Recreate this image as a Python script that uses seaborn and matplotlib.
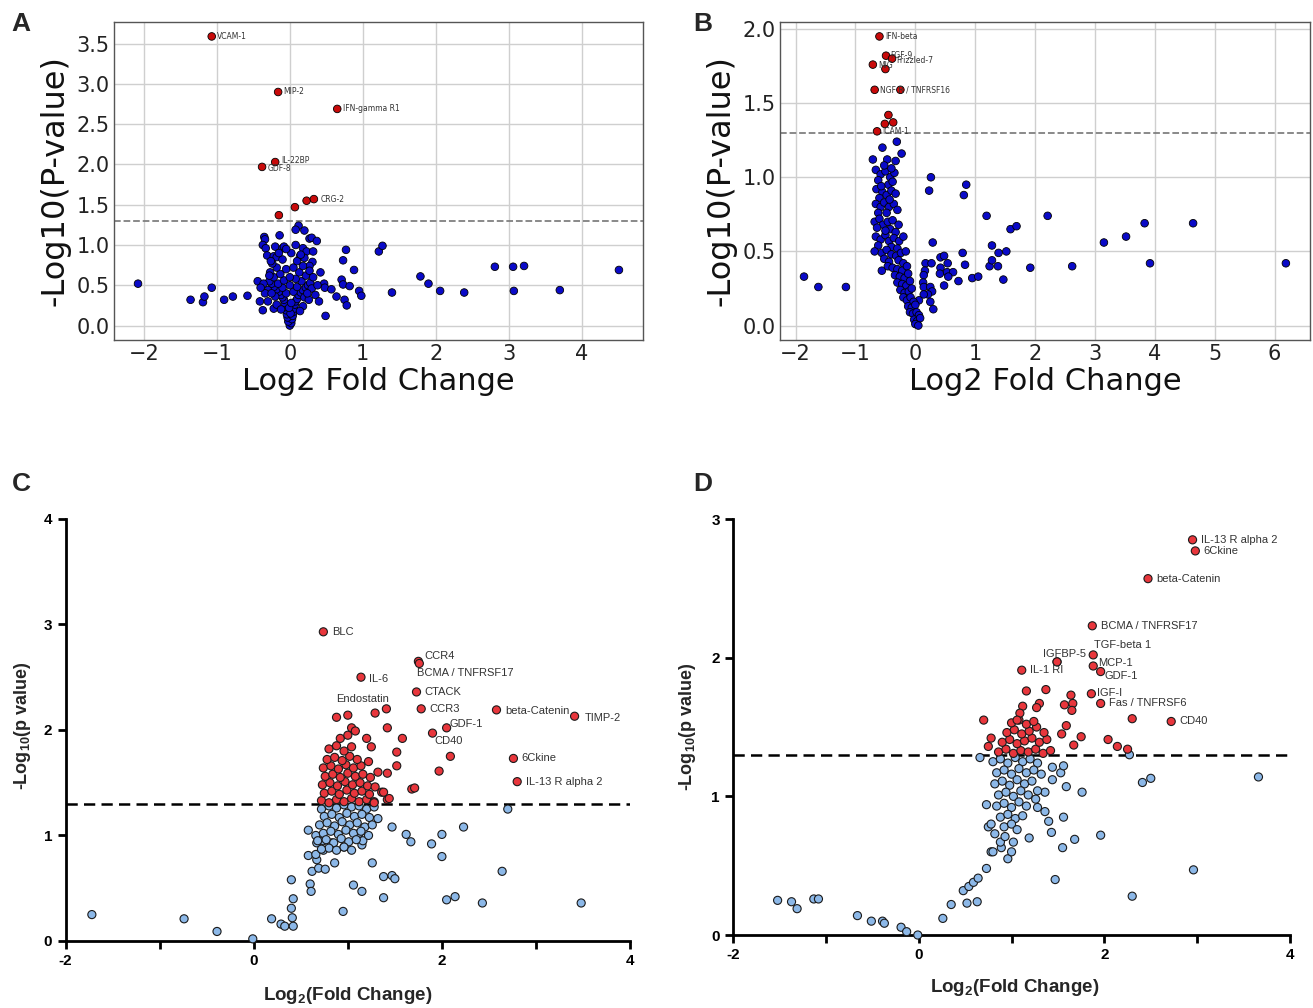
import matplotlib
matplotlib.use('Agg')
import pandas as pd
import matplotlib.pyplot as plt
import seaborn as sns

# ---------------- Panel A ----------------
A_fc = [-2.08, -1.36, -1.19, -1.17, -1.07, -0.90, -0.78, -0.58, -0.44, -0.41, -0.37, -0.22,
        -0.35, -0.34, -0.37, -0.33, -0.14, -0.31, -0.20, -0.10, -0.08, -0.22, -0.18,
        0.12, 0.08, 0.20, 0.27, 0.30, 0.37, 0.18, 0.23, 0.32, 0.14, 0.31, 0.27, 0.42,
        0.77, 0.73, 0.88, 0.47, 0.48, 0.57, 0.64, 0.71, 0.73, 0.82, 0.95, 0.98, 0.75, 0.78, 0.49,
        1.22, 1.27, 1.40, 1.79, 1.90, 2.06, 2.39, 2.81, 3.06, 3.21, 3.07, 3.70, 4.51,
        0.00, 0.02, -0.02, 0.03, -0.03, 0.04, -0.04, 0.05, -0.05, 0.06, -0.06, 0.07, -0.07,
        0.08, -0.08, 0.10, -0.10, 0.01, -0.01, 0.02,
        -0.12, 0.12, -0.15, 0.15, -0.18, 0.18, -0.22, 0.22, -0.25, 0.25, -0.28, 0.28, -0.05,
        0.05, -0.10, 0.10, 0.00, -0.16, 0.16, -0.30, 0.30, -0.34, 0.35, -0.20, 0.20, -0.08,
        0.08, -0.22, 0.22, 0.00, -0.13, 0.13, -0.27, 0.27, -0.05, 0.05, -0.18, 0.18, -0.24,
        0.10, -0.10, 0.20, -0.15, 0.15, -0.26, 0.02, 0.08, -0.05, -0.28, 0.32, -0.36, 0.38,
        -0.40, 0.40, -0.30, 0.26, -0.18, 0.18, -0.12, 0.14, -0.25, 0.24,
        0.23, 0.07, -0.15]
A_logp = [0.52, 0.32, 0.29, 0.36, 0.47, 0.32, 0.36, 0.37, 0.55, 0.30, 0.19, 0.21,
          1.10, 1.07, 1.00, 0.96, 1.12, 0.87, 0.98, 0.96, 0.98, 0.86, 0.85,
          1.24, 1.19, 1.18, 1.08, 1.09, 1.05, 0.96, 0.92, 0.92, 0.86, 0.79, 0.74, 0.66,
          0.94, 0.81, 0.69, 0.52, 0.47, 0.45, 0.36, 0.57, 0.51, 0.49, 0.43, 0.37, 0.32, 0.25, 0.12,
          0.92, 0.99, 0.41, 0.61, 0.52, 0.43, 0.41, 0.73, 0.73, 0.74, 0.43, 0.44, 0.69,
          0.00, 0.03, 0.05, 0.08, 0.10, 0.12, 0.14, 0.17, 0.19, 0.21, 0.23, 0.26, 0.28,
          0.30, 0.32, 0.33, 0.35, 0.15, 0.22, 0.28,
          0.38, 0.38, 0.42, 0.41, 0.45, 0.44, 0.48, 0.47, 0.52, 0.50, 0.55, 0.53, 0.40,
          0.42, 0.47, 0.48, 0.50, 0.52, 0.55, 0.44, 0.46, 0.40, 0.38, 0.36, 0.35, 0.56,
          0.58, 0.60, 0.62, 0.60, 0.64, 0.66, 0.66, 0.68, 0.70, 0.72, 0.72, 0.74, 0.77,
          0.80, 0.82, 0.84, 0.90, 0.88, 0.80, 0.90, 1.00, 0.95, 0.62, 0.60, 0.52, 0.50,
          0.47, 0.30, 0.30, 0.32, 0.26, 0.24, 0.20, 0.18, 0.40, 0.40,
          1.55, 1.47, 1.37]
A_lab_names = ['VCAM-1', 'MIP-2', 'IFN-gamma R1', 'IL-22BP', 'GDF-8', 'CRG-2']
A_lab_fc = [-1.07, -0.16, 0.65, -0.20, -0.38, 0.33]
A_lab_logp = [3.59, 2.90, 2.69, 2.03, 1.97, 1.57]

# ---------------- Panel B ----------------
B_fc = [-1.86, -1.62, -1.16, -0.56, -0.31, -0.55, -0.23, -0.71, -0.47, -0.33,
        0.26, 0.23, 0.85, 0.81, 1.19, 2.21, 1.59, 1.69, 3.83, 4.64, 3.52, 3.15, 0.29, 1.28,
        0.79, 1.39, 1.52, 0.42, 0.48, 0.83, 1.24, 1.28, 1.38, 1.92, 2.62, 3.92, 6.19,
        0.17, 0.27, 0.16, 0.14, 0.54, 0.42, 0.41, 0.53, 0.63, 0.55, 0.72, 0.95, 1.05, 1.47,
        0.48, 0.13, 0.14, 0.25, 0.28, 0.21, 0.14, 0.06, 0.25, 0.30,
        -0.66, -0.58, -0.50, -0.42, -0.35, -0.62, -0.45, -0.38,
        -0.65, -0.55, -0.48, -0.40, -0.33, -0.60,
        -0.66, -0.58, -0.52, -0.44, -0.36, -0.30, -0.62, -0.48,
        -0.68, -0.60, -0.54, -0.46, -0.38, -0.28, -0.64, -0.42, -0.33,
        -0.66, -0.58, -0.50, -0.44, -0.36, -0.27, -0.20, -0.62, -0.40, -0.30,
        -0.68, -0.56, -0.48, -0.40, -0.32, -0.24, -0.16, -0.52, -0.44, -0.28, -0.20,
        -0.46, -0.38, -0.30, -0.22, -0.14, -0.34, -0.26, -0.18, -0.12,
        -0.30, -0.22, -0.15, -0.09, -0.25, -0.18, -0.11, -0.06,
        -0.20, -0.14, -0.08, -0.03, -0.12, -0.06, 0.00,
        -0.09, -0.04, 0.02, 0.06, -0.02, 0.03, 0.08, 0.00, 0.05,
        -0.52, -0.40, -0.57, -0.50, -0.43,
        -0.25, -0.45, -0.37, -0.51, -0.50]
B_logp = [0.33, 0.26, 0.26, 0.37, 1.24, 1.20, 1.16, 1.12, 1.12, 1.11,
          1.00, 0.91, 0.95, 0.88, 0.74, 0.74, 0.65, 0.67, 0.69, 0.69, 0.60, 0.56, 0.56, 0.54,
          0.49, 0.49, 0.50, 0.46, 0.47, 0.41, 0.40, 0.44, 0.40, 0.39, 0.40, 0.42, 0.42,
          0.42, 0.42, 0.37, 0.34, 0.42, 0.39, 0.35, 0.36, 0.36, 0.33, 0.30, 0.32, 0.33, 0.31,
          0.27, 0.29, 0.26, 0.26, 0.23, 0.21, 0.21, 0.17, 0.16, 0.11,
          1.05, 1.02, 1.04, 1.00, 1.03, 0.98, 0.95, 0.97,
          0.92, 0.90, 0.88, 0.91, 0.89, 0.86,
          0.82, 0.80, 0.83, 0.80, 0.82, 0.78, 0.76, 0.76,
          0.70, 0.72, 0.68, 0.70, 0.71, 0.68, 0.66, 0.65, 0.63,
          0.60, 0.58, 0.61, 0.57, 0.59, 0.57, 0.60, 0.54, 0.53, 0.52,
          0.50, 0.49, 0.51, 0.48, 0.47, 0.49, 0.50, 0.45, 0.43, 0.44, 0.42,
          0.40, 0.39, 0.38, 0.37, 0.40, 0.34, 0.33, 0.32, 0.35,
          0.29, 0.28, 0.27, 0.30, 0.24, 0.22, 0.23, 0.25,
          0.19, 0.17, 0.19, 0.16, 0.13, 0.12, 0.14,
          0.09, 0.08, 0.09, 0.07, 0.04, 0.03, 0.05, 0.01, 0.00,
          1.08, 1.06, 0.94, 0.64, 0.85,
          1.59, 1.42, 1.37, 1.36, 1.73]
B_lab_names = ['IFN-beta', 'FGF-9', 'Frizzled-7', 'MIG', 'NGF R / TNFRSF16', 'ICAM-1']
B_lab_fc = [-0.60, -0.49, -0.39, -0.71, -0.68, -0.64]
B_lab_logp = [1.95, 1.82, 1.80, 1.76, 1.59, 1.31]

# ---------------- Panel C ----------------
C_fc = [-1.72, -0.74, -0.39, -0.01, 0.19, 0.29, 0.33, 0.42, 0.41, 0.40, 0.42, 0.40,
        0.60, 0.61, 0.62, 0.69, 0.76, 0.86, 0.58, 0.67, 0.66, 0.58, 0.66, 0.67, 0.74, 0.74,
        0.83, 0.96, 1.15, 1.16, 1.12, 1.26, 1.06, 1.15, 0.95, 1.38, 1.47, 1.50, 1.38, 1.32,
        1.47, 1.62, 1.67, 1.89, 2.00, 2.00, 2.23, 2.05, 2.14, 2.43, 2.64, 2.70, 3.48,
        0.72, 0.80, 0.88, 0.96, 1.04, 1.12, 1.20, 1.28,
        0.75, 0.83, 0.91, 0.99, 1.07, 1.15, 1.23,
        0.70, 0.78, 0.86, 0.94, 1.02, 1.10, 1.18, 1.26,
        0.74, 0.82, 0.90, 0.98, 1.06, 1.14, 1.22,
        0.68, 0.77, 0.85, 0.93, 1.01, 1.09,
        0.80, 0.88, 0.96, 1.04, 0.72,
        0.72, 0.80, 0.88, 0.96, 1.04, 1.12, 1.20, 1.28,
        0.75, 0.83, 0.91, 0.99, 1.07, 1.15, 1.23,
        0.73, 0.81, 0.89, 0.97, 1.05, 1.13, 1.21, 1.29,
        0.76, 0.84, 0.92, 1.00, 1.08, 1.16, 1.24,
        0.74, 0.82, 0.90, 0.98, 1.06, 1.14, 1.22,
        0.78, 0.86, 0.94, 1.02, 1.10,
        0.80, 0.88, 0.96, 1.04, 0.92, 1.00,
        0.88, 1.00, 1.29, 1.04, 1.08, 1.20, 1.42, 1.58, 1.25, 1.52, 1.52, 2.09, 1.97,
        1.68, 1.42, 1.36, 1.42, 1.32, 1.28, 1.44, 1.38, 1.71]
C_logp = [0.25, 0.21, 0.09, 0.02, 0.21, 0.16, 0.14, 0.14, 0.22, 0.31, 0.40, 0.58,
          0.54, 0.47, 0.66, 0.69, 0.68, 0.74, 0.81, 0.77, 0.82, 1.05, 1.00, 0.93, 0.95, 0.86,
          0.93, 0.89, 0.91, 0.95, 1.02, 0.74, 0.53, 0.47, 0.28, 0.61, 0.62, 0.59, 0.41, 1.16,
          1.08, 1.01, 0.94, 0.92, 1.01, 0.80, 1.08, 0.39, 0.42, 0.36, 0.66, 1.25, 0.36,
          1.25, 1.28, 1.26, 1.29, 1.27, 1.28, 1.25, 1.27,
          1.18, 1.20, 1.17, 1.21, 1.18, 1.20, 1.17,
          1.10, 1.12, 1.09, 1.13, 1.10, 1.12, 1.08, 1.10,
          1.02, 1.04, 1.01, 1.05, 1.02, 1.04, 1.00,
          0.95, 0.96, 0.93, 0.97, 0.94, 0.96,
          0.88, 0.86, 0.89, 0.86, 0.87,
          1.33, 1.31, 1.34, 1.32, 1.35, 1.32, 1.34, 1.32,
          1.40, 1.42, 1.39, 1.43, 1.40, 1.42, 1.39,
          1.48, 1.50, 1.47, 1.51, 1.48, 1.50, 1.47, 1.46,
          1.56, 1.58, 1.55, 1.59, 1.56, 1.58, 1.55,
          1.64, 1.66, 1.63, 1.67, 1.64, 1.66, 1.70,
          1.72, 1.74, 1.71, 1.75, 1.72,
          1.82, 1.85, 1.80, 1.84, 1.92, 1.95,
          2.12, 2.14, 2.16, 2.02, 1.99, 1.92, 2.02, 1.92, 1.84, 1.79, 1.66, 1.75, 1.61,
          1.44, 1.34, 1.41, 1.59, 1.60, 1.31, 1.35, 1.41, 1.45]
C_lab_names = ['BLC', 'CCR4', 'BCMA / TNFRSF17', 'IL-6', 'Endostatin', 'CTACK', 'CCR3',
               'beta-Catenin', 'TIMP-2', 'GDF-1', 'CD40', '6Ckine', 'IL-13 R alpha 2']
C_lab_fc = [0.74, 1.75, 1.76, 1.14, 1.41, 1.73, 1.78, 2.58, 3.41, 2.05, 1.90, 2.76, 2.80]
C_lab_logp = [2.93, 2.65, 2.63, 2.50, 2.20, 2.36, 2.20, 2.19, 2.13, 2.02, 1.97, 1.73, 1.51]

# ---------------- Panel D ----------------
D_fc = [-1.52, -1.37, -1.31, -1.13, -1.08, -0.66, -0.51, -0.39, -0.37, -0.19, -0.13, -0.01,
        0.26, 0.35, 0.52, 0.63, 0.48, 0.54, 0.59, 0.64, 0.73, 0.78, 0.80, 0.89, 0.96, 0.88,
        1.02, 1.00, 0.82, 0.93, 0.75, 0.78, 0.73, 1.19, 1.43, 1.55, 1.68, 1.96, 1.47, 2.30,
        2.96, 3.66, 2.41, 2.50, 2.27, 0.66, 1.56, 1.40, 1.36, 1.28, 1.36, 1.28, 1.59, 1.76,
        1.44, 1.53, 1.56, 1.44,
        0.80, 0.88, 0.96, 1.04, 1.12, 1.20, 1.28,
        0.84, 0.92, 1.00, 1.08, 1.16, 1.24, 1.32,
        0.82, 0.90, 0.98, 1.06, 1.14, 1.22,
        0.86, 0.94, 1.02, 1.10, 1.18, 1.26,
        0.84, 0.92, 1.00, 1.08, 1.16,
        0.88, 0.96, 1.04, 1.12, 0.92, 1.00, 1.06,
        0.86, 0.94, 1.02, 1.10, 1.18, 1.26, 1.34, 1.42,
        0.90, 0.98, 1.06, 1.14, 1.22, 1.30, 1.38,
        0.95, 1.03, 1.11, 1.19, 1.27, 1.35,
        1.00, 1.08, 1.16, 1.24, 0.70, 0.78, 0.75,
        1.16, 1.37, 1.64, 1.66, 1.65, 1.57, 1.30, 1.27, 1.12, 1.09, 1.06, 1.59, 1.54, 1.75,
        2.30, 1.67, 2.04, 2.14, 2.25, 1.49]
D_logp = [0.25, 0.24, 0.19, 0.26, 0.26, 0.14, 0.10, 0.10, 0.085, 0.056, 0.024, 0.00,
          0.12, 0.22, 0.23, 0.24, 0.32, 0.35, 0.38, 0.41, 0.48, 0.60, 0.60, 0.63, 0.55, 0.67,
          0.67, 0.60, 0.73, 0.71, 0.78, 0.80, 0.94, 0.70, 0.74, 0.63, 0.69, 0.72, 0.40, 0.28,
          0.47, 1.14, 1.10, 1.13, 1.30, 1.28, 0.85, 0.82, 0.89, 0.92, 1.03, 1.04, 1.07, 1.03,
          1.12, 1.17, 1.22, 1.21,
          1.25, 1.27, 1.24, 1.28, 1.25, 1.27, 1.24,
          1.17, 1.19, 1.16, 1.20, 1.17, 1.19, 1.16,
          1.09, 1.11, 1.08, 1.12, 1.09, 1.11,
          1.01, 1.03, 1.00, 1.04, 1.01, 0.98,
          0.93, 0.95, 0.92, 0.96, 0.93,
          0.85, 0.87, 0.84, 0.86, 0.78, 0.80, 0.76,
          1.32, 1.34, 1.31, 1.33, 1.32, 1.34, 1.31, 1.33,
          1.39, 1.41, 1.38, 1.40, 1.42, 1.39, 1.41,
          1.46, 1.48, 1.45, 1.47, 1.50, 1.46,
          1.53, 1.55, 1.52, 1.54, 1.55, 1.42, 1.36,
          1.76, 1.77, 1.73, 1.67, 1.62, 1.66, 1.67, 1.64, 1.65, 1.60, 1.55, 1.51, 1.45, 1.43,
          1.56, 1.37, 1.41, 1.36, 1.34, 1.97]
D_lab_names = ['IL-13 R alpha 2', '6Ckine', 'beta-Catenin', 'BCMA / TNFRSF17', 'TGF-beta 1',
               'IGFBP-5', 'MCP-1', 'GDF-1', 'IL-1 RI', 'IGF-I', 'Fas / TNFRSF6', 'CD40']
D_lab_fc = [2.95, 2.98, 2.47, 1.87, 1.88, 1.49, 1.88, 1.96, 1.11, 1.86, 1.96, 2.72]
D_lab_logp = [2.85, 2.77, 2.57, 2.23, 2.02, 1.97, 1.94, 1.90, 1.91, 1.74, 1.67, 1.54]

# label offsets (points), text left-aligned
A_offsets = [(4, 0), (4, 0), (4, 0), (4, 1), (4, -1), (5, 0)]
B_offsets = [(4, 0), (3, 0), (3, -1), (4, -1), (4, 0), (4, 0)]
C_offsets = [(6, 0), (4, 4), (-2, -7), (6, -1), (-36, 7), (6, 0), (6, 0), (6, -1), (7, -1),
             (2, 3), (1.5, -6), (5.5, 0), (6, 0)]
D_offsets = [(6, 0), (6, 0), (6, 0), (6, 0), (0.5, 7), (-10, 6), (3.5, 2.5), (2.5, -3.5),
             (6, 0), (4, 0.5), (6, 0), (6, 0)]

THRESH = 1.3


def make_df(fc, logp, lab_fc, lab_logp):
    df = pd.DataFrame({'fc': list(fc) + list(lab_fc), 'logp': list(logp) + list(lab_logp)})
    df['sig'] = df['logp'] > THRESH
    return df


sns.set_theme(style='whitegrid')
plt.rcParams['font.family'] = ['DejaVu Sans']
plt.rcParams['mathtext.default'] = 'regular'

fig = plt.figure(figsize=(13.13, 10.08), dpi=100)
axA = fig.add_axes([0.0868, 0.6627, 0.4029, 0.3155])
axB = fig.add_axes([0.594, 0.6627, 0.4037, 0.3155])
axC = fig.add_axes([0.0499, 0.0665, 0.4300, 0.4187])
axD = fig.add_axes([0.5583, 0.0724, 0.4242, 0.4127])

# ---- top row: matplotlib-style grid plots ----
top = [(axA, A_fc, A_logp, A_lab_names, A_lab_fc, A_lab_logp, A_offsets),
       (axB, B_fc, B_logp, B_lab_names, B_lab_fc, B_lab_logp, B_offsets)]
for ax, fc, lp, names, lfc, llp, offs in top:
    df = make_df(fc, lp, lfc, llp)
    sns.scatterplot(data=df, x='fc', y='logp', hue='sig', palette={False: '#0a0ac8', True: '#c80a0a'},
                    edgecolor='black', linewidth=0.6, s=30, legend=False, ax=ax, zorder=3)
    ax.axhline(THRESH, color='gray', linestyle='--', linewidth=1.3, zorder=2)
    for n, x, y, o in zip(names, lfc, llp, offs):
        ax.annotate(n, (x, y), xytext=o, textcoords='offset points', fontsize=5.5,
                    ha='left', va='center', color='#333333', zorder=4)
    ax.grid(True, color='#cfcfcf', linewidth=1.0)
    for sp in ax.spines.values():
        sp.set_color('#555555')
        sp.set_linewidth(1.0)
    ax.tick_params(labelsize=15, colors='#222222', length=0, pad=3)
    ax.set_xlabel('Log2 Fold Change', fontsize=22, color='#111111')
    ax.set_ylabel('-Log10(P-value)', fontsize=23, color='#111111')
    ax.xaxis.set_label_coords(0.5, -0.085)
    ax.yaxis.set_label_coords(-0.082, 0.5)

axA.set_yticks([0.0, 0.5, 1.0, 1.5, 2.0, 2.5, 3.0, 3.5])
axB.set_yticks([0.0, 0.5, 1.0, 1.5, 2.0])
axB.set_xticks([-2, -1, 0, 1, 2, 3, 4, 5, 6])

# ---- bottom row: prism-style plots ----
bold = dict(fontfamily='Liberation Sans', fontweight='bold')
bottom = [(axC, C_fc, C_logp, C_lab_names, C_lab_fc, C_lab_logp, C_offsets, 4),
          (axD, D_fc, D_logp, D_lab_names, D_lab_fc, D_lab_logp, D_offsets, 3)]
for ax, fc, lp, names, lfc, llp, offs, ymax in bottom:
    df = make_df(fc, lp, lfc, llp)
    sns.scatterplot(data=df, x='fc', y='logp', hue='sig', palette={False: '#8cb8e8', True: '#e8363c'},
                    edgecolor='#1a1a1a', linewidth=0.8, s=34, legend=False, ax=ax, zorder=3,
                    clip_on=False)
    ax.axhline(THRESH, color='black', linestyle=(0, (4.5, 2.5)), linewidth=1.8, zorder=2)
    for n, x, y, o in zip(names, lfc, llp, offs):
        ax.annotate(n, (x, y), xytext=o, textcoords='offset points', fontsize=8,
                    ha='left', va='center', color='#333333', fontfamily='Liberation Sans', zorder=4)
    ax.grid(False)
    ax.set_facecolor('white')
    ax.set_xlim(-2, 4)
    ax.set_ylim(0, ymax)
    ax.spines['top'].set_visible(False)
    ax.spines['right'].set_visible(False)
    for side in ['left', 'bottom']:
        ax.spines[side].set_color('black')
        ax.spines[side].set_linewidth(2.0)
    ax.set_xticks([-2, -1, 0, 1, 2, 3, 4])
    ax.set_xticklabels(['-2', '', '0', '', '2', '', '4'], **bold)
    ax.set_yticks(range(ymax + 1))
    ax.set_yticklabels([str(v) for v in range(ymax + 1)], **bold)
    ax.tick_params(direction='out', length=6, width=2.0, labelsize=11, colors='black',
                   bottom=True, left=True)
    ax.set_xlabel('Log$_2$(Fold Change)', fontsize=13.5, **bold)
    ax.set_ylabel('-Log$_{10}$(p value)', fontsize=13, **bold)

axC.xaxis.set_label_coords(0.5, -0.104)
axC.yaxis.set_label_coords(-0.058, 0.51)
axD.xaxis.set_label_coords(0.506, -0.101)
axD.yaxis.set_label_coords(-0.063, 0.5)

for lbl, x, y in [('A', 0.009, 0.988), ('B', 0.528, 0.988), ('C', 0.009, 0.532), ('D', 0.528, 0.532)]:
    fig.text(x, y, lbl, fontsize=19, fontweight='bold', fontfamily='Liberation Sans', va='top', ha='left')

fig.savefig('out.png', dpi=100)
